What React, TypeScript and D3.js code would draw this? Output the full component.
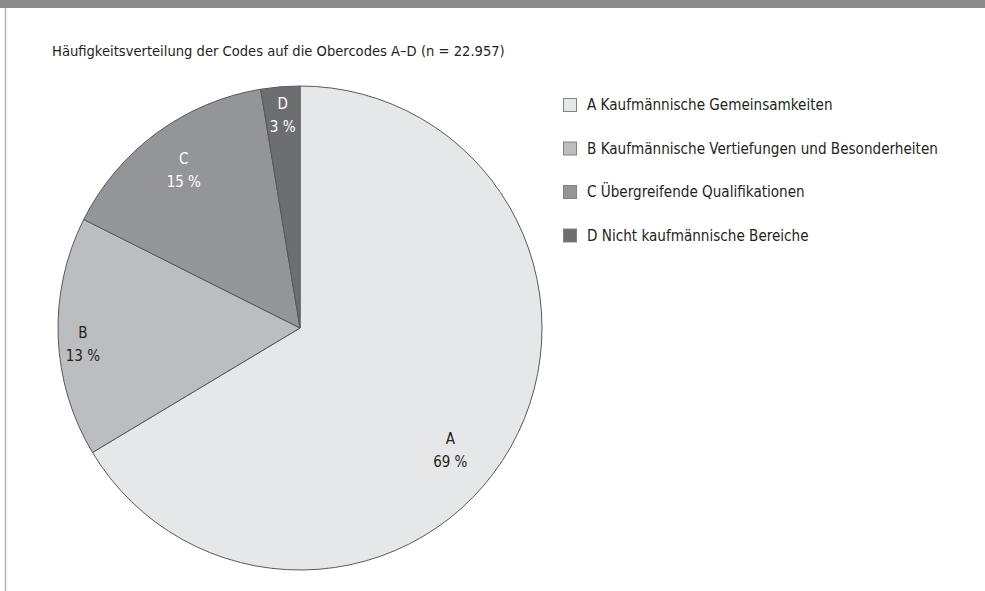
import React from "react";
import * as d3 from "d3";

const title = "Häufigkeitsverteilung der Codes auf die Obercodes A–D (n = 22.957)";
const categories = ["A", "B", "C", "D"];
const legendLabels = [
  "A Kaufmännische Gemeinsamkeiten",
  "B Kaufmännische Vertiefungen und Besonderheiten",
  "C Übergreifende Qualifikationen",
  "D Nicht kaufmännische Bereiche",
];
// slice shares as drawn in the picture
const shares = [66.4, 16.0, 15.0, 2.6];
// printed percentage labels
const percentLabels = ["69 %", "13 %", "15 %", "3 %"];

const colors = ["#e6e7e8", "#bcbdc0", "#939598", "#6d6e71"];
const labelColors = ["#231f20", "#231f20", "#ffffff", "#ffffff"];
const labelAngleFrac = [0.54, 0.46, 0.5, 0.5];
const labelRadiusFrac = [0.8, 0.9, 0.81, 0.88];

const W = 985;
const H = 591;
const FONT = "'DejaVu Sans Condensed', 'DejaVu Sans', sans-serif";

export default function App() {
  const cx = 300;
  const cy = 328;
  const R = 242;
  const pie = d3.pie<number>().sort(null).value((d) => d)(shares);
  const arc = d3.arc<d3.PieArcDatum<number>>().innerRadius(0).outerRadius(R);

  return (
    <svg
      width={W}
      height={H}
      style={{ position: "absolute", left: 0, top: 0, background: "#fff" }}
      fontFamily={FONT}
      fontStretch="condensed"
    >
      <rect x={0} y={0} width={W} height={8} fill="#8a8b8d" />
      <line x1={5.5} x2={5.5} y1={8} y2={H} stroke="#b1b2b4" strokeWidth={1.5} />
      <text x={52} y={56} fontSize={14.6} fill="#231f20">
        {title}
      </text>
      <g transform={`translate(${cx},${cy})`}>
        {pie.map((p, i) => (
          <path key={i} d={arc(p) || ""} fill={colors[i]} stroke="#58595b" strokeWidth={1} />
        ))}
        {pie.map((p, i) => {
          const a = p.startAngle + labelAngleFrac[i] * (p.endAngle - p.startAngle);
          const r = labelRadiusFrac[i] * R;
          const [lx, ly] = d3
            .arc<any>()
            .innerRadius(r)
            .outerRadius(r)
            .centroid({ startAngle: a, endAngle: a } as any);
          return (
            <g key={"l" + i} fill={labelColors[i]} fontSize={15} textAnchor="middle">
              <text x={lx} y={ly - 11.5} dominantBaseline="central">
                {categories[i]}
              </text>
              <text x={lx} y={ly + 11.5} dominantBaseline="central">
                {percentLabels[i]}
              </text>
            </g>
          );
        })}
      </g>
      <g transform="translate(563,98)">
        {legendLabels.map((l, i) => (
          <g key={i} transform={`translate(0,${i * 43.5})`}>
            <rect x={0.5} y={0.5} width={13} height={13} fill={colors[i]} stroke="#808285" strokeWidth={1} />
            <text x={24} y={7} dominantBaseline="central" fontSize={15.1} fill="#231f20">
              {l}
            </text>
          </g>
        ))}
      </g>
    </svg>
  );
}
